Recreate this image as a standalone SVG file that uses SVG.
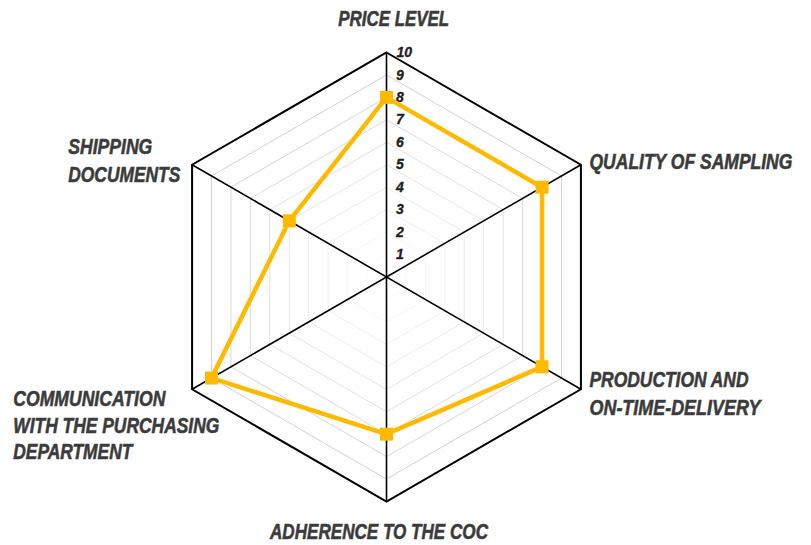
<svg xmlns="http://www.w3.org/2000/svg" xmlns:xlink="http://www.w3.org/1999/xlink" width="811" height="545" viewBox="0 0 811 545">
<style>
.ring{fill:none;stroke:#cccccc;stroke-width:1;vector-effect:non-scaling-stroke}
.outer{fill:none;stroke:#000;stroke-width:2;stroke-linejoin:miter}
.axis{stroke:#000;stroke-width:1.6}
.lbl{font-family:"Liberation Sans",Arial,sans-serif;font-weight:bold;font-style:italic;font-size:21.5px;fill:#3b3b3b;stroke:#3b3b3b;stroke-width:0.55}
.num{font-family:"Liberation Sans",Arial,sans-serif;font-weight:bold;font-style:italic;font-size:14px;fill:#1e1e1e;stroke:#1e1e1e;stroke-width:0.35}
.data{fill:none;stroke:#FFBA00;stroke-width:4.5;stroke-linejoin:miter}
.mk{fill:#FFBA00}
</style>
<defs>
<polygon id="hex" points="0,-224.5 194.42,-112.25 194.42,112.25 0,224.5 -194.42,112.25 -194.42,-112.25"/>
<rect id="m" x="-6.5" y="-6.5" width="13" height="13"/>
</defs>
<rect width="811" height="545" fill="#fff"/>
<g id="grid">
<use xlink:href="#hex" class="ring" transform="translate(386.5,277) scale(0.1)"/>
<use xlink:href="#hex" class="ring" transform="translate(386.5,277) scale(0.2)"/>
<use xlink:href="#hex" class="ring" transform="translate(386.5,277) scale(0.3)"/>
<use xlink:href="#hex" class="ring" transform="translate(386.5,277) scale(0.4)"/>
<use xlink:href="#hex" class="ring" transform="translate(386.5,277) scale(0.5)"/>
<use xlink:href="#hex" class="ring" transform="translate(386.5,277) scale(0.6)"/>
<use xlink:href="#hex" class="ring" transform="translate(386.5,277) scale(0.7)"/>
<use xlink:href="#hex" class="ring" transform="translate(386.5,277) scale(0.8)"/>
<use xlink:href="#hex" class="ring" transform="translate(386.5,277) scale(0.9)"/>
<use xlink:href="#hex" class="outer" transform="translate(386.5,277)"/>
</g>
<g id="connectors">
<line class="axis" x1="386.5" y1="52.5" x2="386.5" y2="501.5"/>
<line class="axis" x1="580.92" y1="164.75" x2="192.08" y2="389.25"/>
<line class="axis" x1="580.92" y1="389.25" x2="192.08" y2="164.75"/>
</g>
<g id="scale">
<text class="num" x="396" y="259">1</text>
<text class="num" x="396" y="236.6">2</text>
<text class="num" x="396" y="214.2">3</text>
<text class="num" x="396" y="191.7">4</text>
<text class="num" x="396" y="169.3">5</text>
<text class="num" x="396" y="146.8">6</text>
<text class="num" x="396" y="124.4">7</text>
<text class="num" x="396" y="101.9">8</text>
<text class="num" x="396" y="79.5">9</text>
<text class="num" x="396.5" y="57">10</text>
</g>
<g id="series">
<polygon class="data" points="386.5,97.4 542.04,187.2 542.04,366.8 386.5,434.15 211.52,378.03 289.29,220.87"/>
</g>
<g id="price-level">
<text class="lbl" transform="translate(338.3,26) scale(0.84,1)" textLength="132" lengthAdjust="spacingAndGlyphs">PRICE LEVEL</text>
<use xlink:href="#m" class="mk" x="386.5" y="97.4"/>
</g>
<g id="quality-of-sampling">
<text class="lbl" transform="translate(589.5,168.5) scale(0.84,1)" textLength="241.5" lengthAdjust="spacingAndGlyphs">QUALITY OF SAMPLING</text>
<use xlink:href="#m" class="mk" x="542.04" y="187.2"/>
</g>
<g id="production">
<text class="lbl" transform="translate(589.5,387.3) scale(0.84,1)" textLength="189.3" lengthAdjust="spacingAndGlyphs">PRODUCTION AND</text>
<text class="lbl" transform="translate(589.5,414.5) scale(0.84,1)" textLength="203.6" lengthAdjust="spacingAndGlyphs">ON-TIME-DELIVERY</text>
<use xlink:href="#m" class="mk" x="542.04" y="366.8"/>
</g>
<g id="adherence">
<text class="lbl" transform="translate(270,539) scale(0.84,1)" textLength="259.5" lengthAdjust="spacingAndGlyphs">ADHERENCE TO THE COC</text>
<use xlink:href="#m" class="mk" x="386.5" y="434.15"/>
</g>
<g id="communication">
<text class="lbl" transform="translate(13.3,405.7) scale(0.84,1)" textLength="181" lengthAdjust="spacingAndGlyphs">COMMUNICATION</text>
<text class="lbl" transform="translate(13.3,432.5) scale(0.84,1)" textLength="245.2" lengthAdjust="spacingAndGlyphs">WITH THE PURCHASING</text>
<text class="lbl" transform="translate(13.3,459) scale(0.84,1)" textLength="141.7" lengthAdjust="spacingAndGlyphs">DEPARTMENT</text>
<use xlink:href="#m" class="mk" x="211.52" y="378.03"/>
</g>
<g id="shipping">
<text class="lbl" transform="translate(68.3,154.3) scale(0.84,1)" textLength="100" lengthAdjust="spacingAndGlyphs">SHIPPING</text>
<text class="lbl" transform="translate(68.3,181.5) scale(0.84,1)" textLength="133.3" lengthAdjust="spacingAndGlyphs">DOCUMENTS</text>
<use xlink:href="#m" class="mk" x="289.29" y="220.87"/>
</g>
</svg>
